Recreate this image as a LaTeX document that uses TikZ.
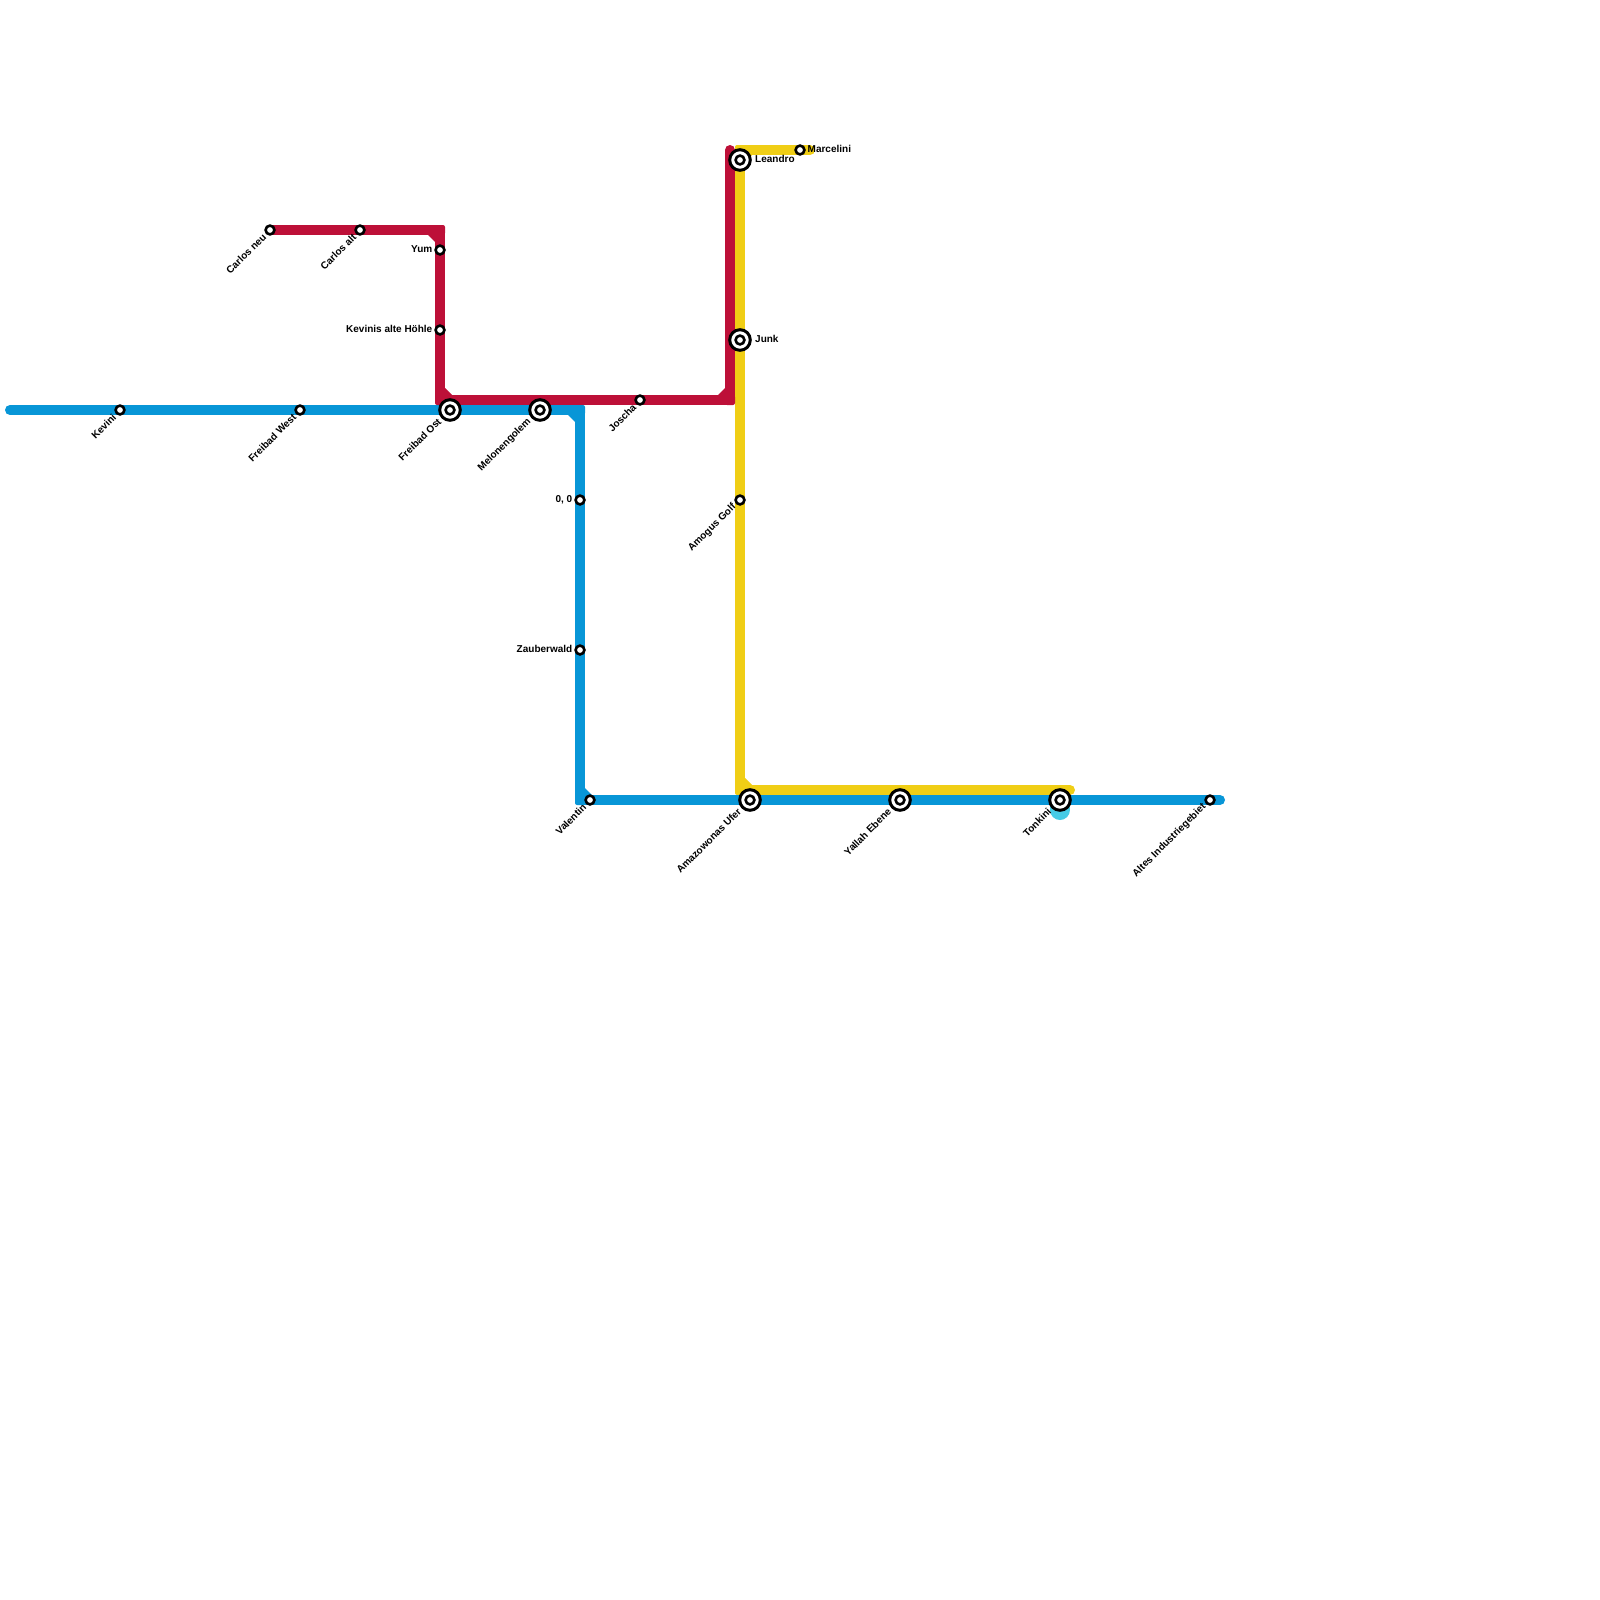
\documentclass[tikz,border=0pt]{standalone}
\usepackage{fontspec}
\setmainfont{Liberation Sans}
\usetikzlibrary{backgrounds}
\definecolor{redline}{HTML}{BD1038}
\definecolor{blueline}{HTML}{0896D7}
\definecolor{yellowline}{HTML}{F0CE15}
\definecolor{cyanline}{HTML}{45CBE6}
\tikzset{
  metro/.style={line width=10pt,line cap=round,line join=round},
  stop/.style={shape=circle,draw=black,fill=white,line width=2.6pt,inner sep=0pt,minimum size=8.8pt},
  hub/.style={shape=circle,draw=black,fill=white,line width=3pt,inner sep=0pt,minimum size=20.6pt,
    path picture={\draw[line width=2.6pt] (path picture bounding box.center) circle (4.4pt);}},
  tag/.style={inner sep=0pt,font=\fontsize{10}{12}\selectfont\bfseries},
  tagw/.style={tag,anchor=east,xshift=-7.5pt,yshift=0.6pt},
  tage/.style={tag,anchor=west,xshift=7.5pt,yshift=0.6pt},
  tagehub/.style={tag,anchor=west,xshift=15pt,yshift=0.6pt},
  tagsw/.style={tag,anchor=east,xshift=-5.5pt,yshift=-5.5pt,rotate=45},
  tagswhub/.style={tag,anchor=east,xshift=-10.5pt,yshift=-10pt,rotate=45}
}
\newcommand{\linebend}[4]{%
  \begin{scope}[shift={(#2)},xscale=#3,yscale=#4]
    \fill[#1] (-12,5) -- (-5,12) -- (-4,4) -- cycle;
    \fill[#1,rounded corners=2pt] (-5,-5) -- (5,-5) -- (5,5) -- (-5,5) -- cycle;
  \end{scope}}

\begin{document}
\begin{tikzpicture}
[x=1pt,y=-1pt]
\useasboundingbox (0,0) rectangle (1600,1600);
% stations
\node[stop] (carlosneu) at (270,230) {};
\node[stop] (carlosalt) at (360,230) {};
\node[stop] (yum) at (440,250) {};
\node[stop] (kevinis) at (440,330) {};
\node[stop] (kevini) at (120,410) {};
\node[stop] (freibadwest) at (300,410) {};
\node[hub] (freibadost) at (450,410) {};
\node[hub] (melonengolem) at (540,410) {};
\node[stop] (joscha) at (640,400) {};
\node[stop] (nullnull) at (580,500) {};
\node[stop] (zauberwald) at (580,650) {};
\node[stop] (valentin) at (590,800) {};
\node[hub] (amazowonas) at (750,800) {};
\node[hub] (yallah) at (900,800) {};
\node[hub] (tonkini) at (1060,800) {};
\node[stop] (altes) at (1210,800) {};
\node[hub] (leandro) at (740,160) {};
\node[stop] (marcelini) at (800,150) {};
\node[hub] (junk) at (740,340) {};
\node[stop] (amogus) at (740,500) {};
% labels
\node[tagsw] (carlosneutag) at (carlosneu) {Carlos neu};
\node[tagsw] (carlosalttag) at (carlosalt) {Carlos alt};
\node[tagw] (yumtag) at (yum) {Yum};
\node[tagw] (kevinistag) at (kevinis) {Kevinis alte Höhle};
\node[tagsw] (kevinitag) at (kevini) {Kevini};
\node[tagsw] (freibadwesttag) at (freibadwest) {Freibad West};
\node[tagswhub] (freibadosttag) at (freibadost) {Freibad Ost};
\node[tagswhub] (melonengolemtag) at (melonengolem) {Melonengolem};
\node[tagsw] (joschatag) at (joscha) {Joscha};
\node[tagw] (nullnulltag) at (nullnull) {0, 0};
\node[tagw] (zauberwaldtag) at (zauberwald) {Zauberwald};
\node[tagsw] (valentintag) at (valentin) {Valentin};
\node[tagswhub] (amazowonastag) at (amazowonas) {Amazowonas Ufer};
\node[tagswhub] (yallahtag) at (yallah) {Yallah Ebene};
\node[tagswhub] (tonkinitag) at (tonkini) {Tonkini};
\node[tagsw] (altestag) at (altes) {Altes Industriegebiet};
\node[tagehub] (leandrotag) at (leandro) {Leandro};
\node[tage] (marcelinitag) at (marcelini) {Marcelini};
\node[tagehub] (junktag) at (junk) {Junk};
\node[tagsw] (amogustag) at (amogus) {Amogus Golf};
% corners and line ends
\coordinate (bluestart) at (10,410);
\coordinate (bluetop) at (580,410);
\coordinate (bluelow) at (580,800);
\coordinate (blueend) at (1220,800);
\coordinate (redup) at (440,230);
\coordinate (redmid) at (440,400);
\coordinate (redright) at (730,400);
\coordinate (redend) at (730,150);
\coordinate (yellowtop) at (740,150);
\coordinate (yellowend) at (810,150);
\coordinate (yellowlow) at (740,790);
\coordinate (yellowfar) at (1070,790);
\coordinate (cyantop) at (1060,805);
\coordinate (cyanend) at (1060,810);
\begin{pgfonlayer}{background}
\draw[cyanline,line width=20pt,line cap=round] (cyantop) -- (cyanend);
\draw[metro,yellowline] (yellowend) -- (marcelini.center) -- (yellowtop) -- (leandro.center)
  -- (junk.center) -- (amogus.center) -- (yellowlow) -- (yellowfar);
\linebend{yellowline}{yellowtop}{-1}{1}
\linebend{yellowline}{yellowlow}{-1}{-1}
\draw[metro,blueline] (bluestart) -- (kevini.center) -- (freibadwest.center) -- (freibadost.center)
  -- (melonengolem.center) -- (bluetop) -- (nullnull.center) -- (zauberwald.center) -- (bluelow)
  -- (valentin.center) -- (amazowonas.center) -- (yallah.center) -- (tonkini.center)
  -- (altes.center) -- (blueend);
\linebend{blueline}{bluetop}{1}{1}
\linebend{blueline}{bluelow}{-1}{-1}
\draw[metro,redline] (carlosneu.center) -- (carlosalt.center) -- (redup) -- (yum.center)
  -- (kevinis.center) -- (redmid) -- (joscha.center) -- (redright) -- (redend);
\linebend{redline}{redup}{1}{1}
\linebend{redline}{redmid}{-1}{-1}
\linebend{redline}{redright}{1}{-1}
\end{pgfonlayer}
\end{tikzpicture}
\end{document}
